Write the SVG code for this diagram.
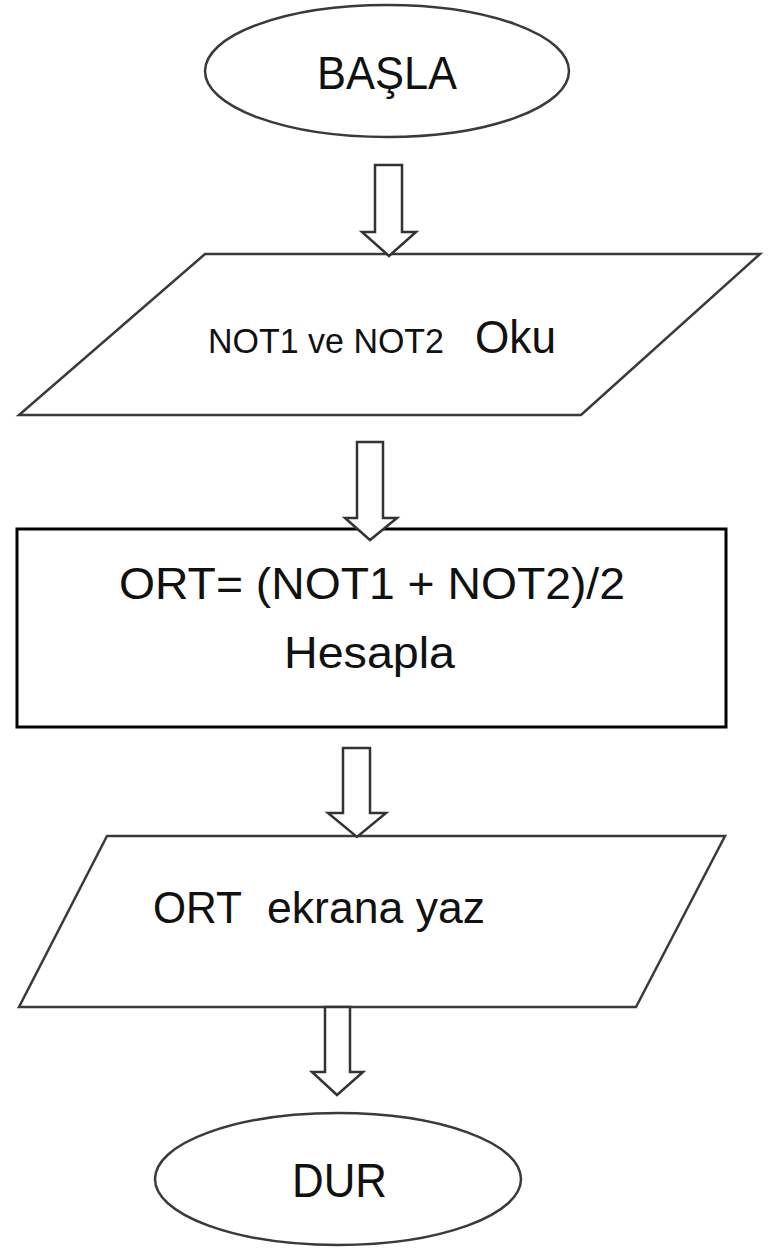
<svg xmlns="http://www.w3.org/2000/svg" width="768" height="1249" viewBox="0 0 768 1249">
<style>
.shape{fill:#fff;stroke:#3a3a3a;stroke-width:2.5}
.box{fill:#fff;stroke:#000;stroke-width:3}
.arrow{fill:#fff;stroke:#333;stroke-width:2.5;stroke-linejoin:miter}
text{font-family:"Liberation Sans",Arial,sans-serif;fill:#111}
</style>
<rect width="768" height="1249" fill="#fff"/>
<g id="start">
<ellipse class="shape" cx="387" cy="71" rx="182" ry="66"/>
<text x="317" y="89" font-size="46" textLength="140" lengthAdjust="spacingAndGlyphs">BAŞLA</text>
</g>
<g id="input">
<polygon class="shape" points="205,254 760,254 581,415 19,415"/>
<text x="208" y="353" font-size="35" textLength="236" lengthAdjust="spacingAndGlyphs">NOT1 ve NOT2</text>
<text x="475" y="353" font-size="47" textLength="81" lengthAdjust="spacingAndGlyphs">Oku</text>
</g>
<g id="process">
<rect class="box" x="17" y="529" width="709" height="198"/>
<text x="119" y="599" font-size="45" textLength="506" lengthAdjust="spacingAndGlyphs">ORT= (NOT1 + NOT2)/2</text>
<text x="284" y="668" font-size="45" textLength="171" lengthAdjust="spacingAndGlyphs">Hesapla</text>
</g>
<g id="output">
<polygon class="shape" points="107,836 725,836 636,1007 19,1007"/>
<text x="153" y="923" font-size="45" textLength="89" lengthAdjust="spacingAndGlyphs">ORT</text>
<text x="267" y="923" font-size="45" textLength="218" lengthAdjust="spacingAndGlyphs">ekrana yaz</text>
</g>
<g id="end">
<ellipse class="shape" cx="338" cy="1179" rx="183" ry="66"/>
<text x="292" y="1197" font-size="48" textLength="95" lengthAdjust="spacingAndGlyphs">DUR</text>
</g>
<g id="connectors">
<polygon class="arrow" points="375,165 402,165 402,232 416,232 389,256 362,232 375,232"/>
<polygon class="arrow" points="357,442 383,442 383,518 397,518 370,540 345,518 357,518"/>
<polygon class="arrow" points="343,748 370,748 370,813 386,813 357,837 328,813 343,813"/>
<polygon class="arrow" points="325,1007 350,1007 350,1072 363,1072 337,1095 312,1072 325,1072"/>
</g>
</svg>
